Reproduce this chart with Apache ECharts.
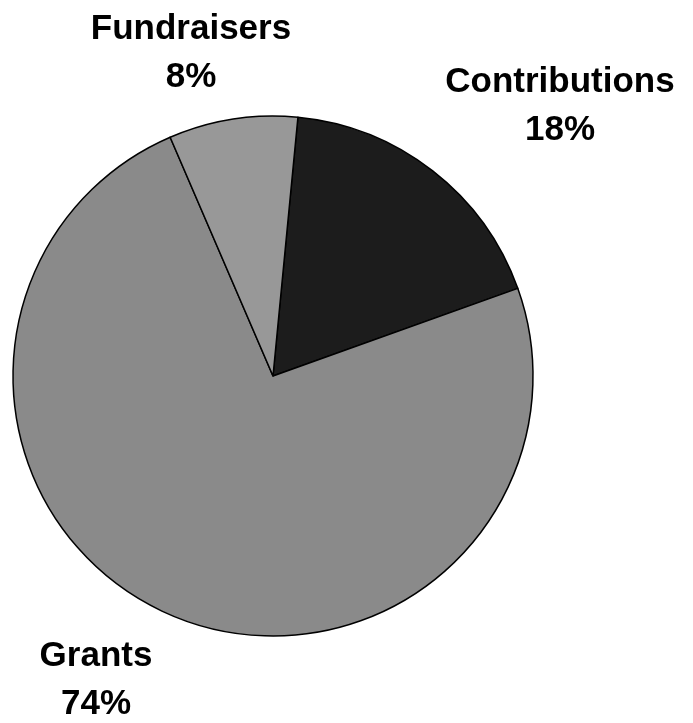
<!DOCTYPE html>
<html>
<head>
<meta charset="utf-8">
<script src="https://cdn.jsdelivr.net/npm/echarts@6/dist/echarts.min.js"></script>
<style>
	html, body { margin: 0; padding: 0; background: #fff; }
	#chart { width: 693px; height: 723px; }
</style>
</head>
<body>
<div id="chart"></div>
<script>
// 数据
const categories = ['Contributions', 'Grants', 'Fundraisers'];
const shares = [18, 74, 8];
const sliceColors = ['#1c1c1c', '#8a8a8a', '#989898'];

// label anchor (centre of each two-line label)
const labelSpots = [[560, 106], [96, 680], [191, 53]];

const chart = echarts.init(document.getElementById('chart'));

const option = {
	animation: false,
	series: [
		{
			type: 'pie',
			center: [273, 376],
			radius: 260,
			startAngle: 84.5,
			clockwise: true,
			data: categories.map((name, i) => ({
				name: name,
				value: shares[i],
				itemStyle: { color: sliceColors[i] }
			})),
			itemStyle: {
				borderColor: '#000',
				borderWidth: 1.5
			},
			label: {
				show: true,
				position: 'outside',
				formatter: '{b}\n{c}%',
				fontFamily: 'Liberation Sans, Arial, sans-serif',
				fontWeight: 'bold',
				fontSize: 35,
				lineHeight: 48,
				color: '#000',
				align: 'center',
				overflow: 'none'
			},
			labelLine: { show: false },
			labelLayout: function (params) {
				const p = labelSpots[params.dataIndex];
				return {
					x: p[0],
					y: p[1],
					align: 'center',
					verticalAlign: 'middle'
				};
			}
		}
	]
};

chart.setOption(option);
</script>
</body>
</html>
